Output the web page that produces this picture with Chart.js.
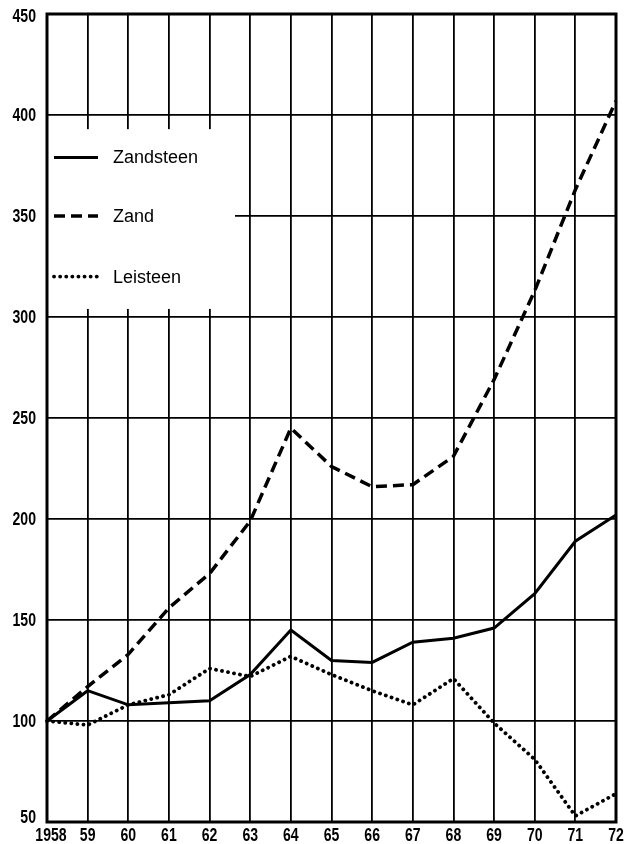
<!DOCTYPE html>
<html>
<head>
<meta charset="utf-8">
<script src="https://cdn.jsdelivr.net/npm/chart.js@4/dist/chart.umd.min.js"></script>
<style>
html,body{margin:0;padding:0;background:#fff;}
#wrap{width:624px;height:844px;position:relative;}
</style>
</head>
<body>
<div id="wrap"><canvas id="c" width="624" height="844"></canvas></div>
<script>
const years = ['1958','59','60','61','62','63','64','65','66','67','68','69','70','71','72'];
const zandsteen = [100,115,108,109,110,123,145,130,129,139,141,146,163,189,202];
const zand = [100,117,133,156,173,199,245,226,216,217,231,269,313,363,407];
const leisteen = [100,98,108,113,126,122,132,123,115,108,121,99,81,53,64];
const seriesNames = ['Zandsteen','Zand','Leisteen'];
const yTicks = [50,100,150,200,250,300,350,400,450];

const TICK_FONT = "bold 19px 'Liberation Sans', Arial, sans-serif";
const SQUEEZE = 0.74;

function drawCondensed(ctx, text, x, y, align){
  ctx.save();
  ctx.font = TICK_FONT;
  ctx.textBaseline = 'middle';
  const w = ctx.measureText(text).width * SQUEEZE;
  let left = x;
  if (align === 'right') left = x - w;
  else if (align === 'center') left = x - w/2;
  ctx.translate(left, y);
  ctx.scale(SQUEEZE, 1);
  ctx.textAlign = 'left';
  ctx.fillStyle = '#000';
  ctx.fillText(text, 0, 0);
  ctx.restore();
}

const customPlugin = {
  id:'custom',
  beforeDatasetsDraw(chart){
    const ctx = chart.ctx;
    const ca = chart.chartArea;
    const ys = chart.scales.y;
    ctx.save();
    const top = ys.getPixelForValue(393);
    const bot = ys.getPixelForValue(304);
    ctx.fillStyle = '#fff';
    ctx.fillRect(ca.left+1, top, 187, bot-top);
    const rows = [ys.getPixelForValue(379), ys.getPixelForValue(350), ys.getPixelForValue(320)];
    chart.data.datasets.forEach((ds,i)=>{
      const y = rows[i];
      ctx.beginPath();
      ctx.strokeStyle = '#000';
      ctx.lineWidth = ds.borderWidth;
      ctx.lineCap = ds.borderCapStyle || 'butt';
      ctx.setLineDash(ds.borderDash || []);
      ctx.moveTo(ca.left+7, y);
      ctx.lineTo(ca.left+51, y);
      ctx.stroke();
      ctx.setLineDash([]);
      ctx.fillStyle = '#000';
      ctx.font = "18px 'Liberation Sans', Arial, sans-serif";
      ctx.textBaseline = 'middle';
      ctx.textAlign = 'left';
      ctx.fillText(ds.label, ca.left+66, y+1);
    });
    ctx.restore();
  },
  afterDraw(chart){
    const ctx = chart.ctx;
    const ca = chart.chartArea;
    ctx.save();
    ctx.strokeStyle = '#000';
    ctx.lineWidth = 3;
    ctx.strokeRect(ca.left, ca.top, ca.right-ca.left, ca.bottom-ca.top);
    ctx.restore();
    const ys = chart.scales.y;
    ys.ticks.forEach((t,i)=>{
      let y = ys.getPixelForTick(i);
      if (i === 0) y -= 5;
      if (i === ys.ticks.length-1) y += 2;
      drawCondensed(ctx, String(t.value), ca.left-11, y+1, 'right');
    });
    const xs = chart.scales.x;
    chart.data.labels.forEach((lab,i)=>{
      let x = xs.getPixelForTick(i);
      if (i === 0) x += 4;
      drawCondensed(ctx, lab, x, ca.bottom+14, 'center');
    });
  }
};

new Chart(document.getElementById('c'), {
  type:'line',
  data:{
    labels: years,
    datasets:[
      {label:seriesNames[0], data:zandsteen, borderColor:'#000', borderWidth:3, pointRadius:0, tension:0, fill:false},
      {label:seriesNames[1], data:zand, borderColor:'#000', borderWidth:3.5, borderDash:[11,6], pointRadius:0, tension:0, fill:false},
      {label:seriesNames[2], data:leisteen, borderColor:'#000', borderWidth:3.8, borderDash:[0.1,6], borderCapStyle:'round', pointRadius:0, tension:0, fill:false}
    ]
  },
  options:{
    responsive:false,
    animation:false,
    devicePixelRatio:1,
    layout:{padding:{top:14, right:8, left:0, bottom:0}},
    plugins:{legend:{display:false}, tooltip:{enabled:false}},
    scales:{
      x:{
        type:'category',
        offset:false,
        grid:{color:'#000', lineWidth:1.8, drawTicks:false},
        border:{display:false},
        ticks:{display:false, autoSkip:false},
        afterFit(s){ s.height = 22; s.paddingLeft=0; s.paddingRight=0; s.paddingTop=0; s.paddingBottom=0; }
      },
      y:{
        min:50, max:450,
        afterBuildTicks(s){ s.ticks = yTicks.map(v=>({value:v})); },
        grid:{color:'#000', lineWidth:1.8, drawTicks:false},
        border:{display:false},
        ticks:{display:false},
        afterFit(s){ s.width = 47; s.paddingLeft=0; s.paddingRight=0; s.paddingTop=0; s.paddingBottom=0; }
      }
    }
  },
  plugins:[customPlugin]
});
</script>
</body>
</html>
